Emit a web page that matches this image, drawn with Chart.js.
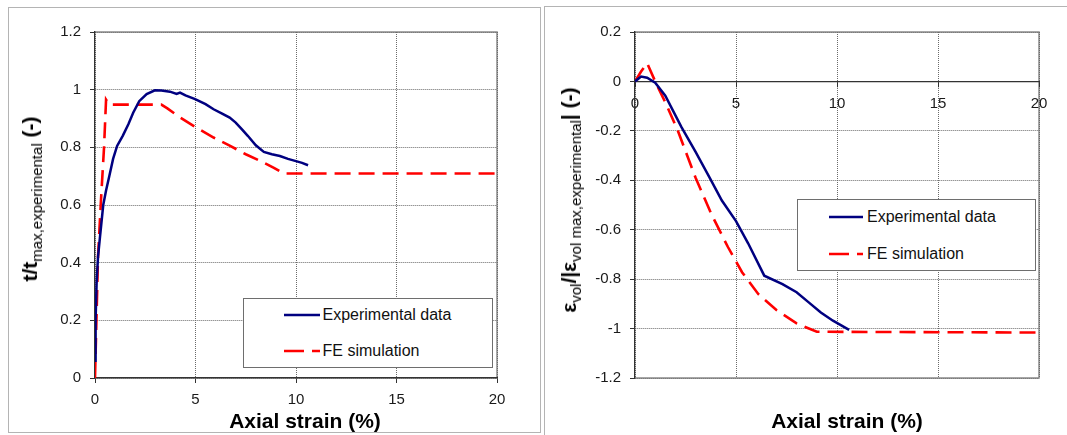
<!DOCTYPE html>
<html>
<head>
<meta charset="utf-8">
<script src="https://cdn.jsdelivr.net/npm/chart.js@4.4.0/dist/chart.umd.min.js"></script>
<style>
  body { margin: 0; background: #fff; width: 1067px; height: 435px; overflow: hidden; position: relative;
         font-family: "Liberation Sans", Arial, sans-serif; color: #000; }
  .panel { position: absolute; border: 1.5px solid #b4b4b4; box-sizing: border-box; }
  canvas { position: absolute; top: 0; }
  .ytitle { position: absolute; transform: translate(-50%, -50%) rotate(-90deg); white-space: nowrap;
            font-weight: bold; font-size: 21px; line-height: 26px; }
  .ytitle .sub { font-size: 15px; font-weight: normal; position: relative; top: 5px; }
  .xtitle { position: absolute; transform: translate(-50%, -50%); white-space: nowrap; font-weight: bold; font-size: 21px; }
  .legend { position: absolute; background: #fff; border: 1.2px solid #6e6e6e; box-sizing: border-box; }
  .legend .row { position: absolute; display: flex; align-items: center; font-size: 16px; color: #111;
                 transform: translateY(-50%); white-space: nowrap; }
  .legend svg { display: block; }
</style>
</head>
<body>
<div class="panel" style="left:8px; top:7px; width:533px; height:426px;"></div>
<div class="panel" style="left:543.5px; top:6px; width:540px; height:440px;"></div>

<canvas id="left" width="540" height="435" style="left:0px"></canvas>
<canvas id="right" width="527" height="435" style="left:540px"></canvas>

<div class="ytitle" style="left:31px; top:199px;">t/t<span class="sub">max,experimental</span> (-)</div>
<div class="ytitle" style="left:570px; top:200px;">&epsilon;<span class="sub">vol</span>/|&epsilon;<span class="sub">vol max,experimental</span>| (-)</div>
<div class="xtitle" style="left:305px; top:421px;">Axial strain (%)</div>
<div class="xtitle" style="left:847px; top:421px;">Axial strain (%)</div>

<div class="legend" id="legLeft" style="left:242.5px; top:297.5px; width:250px; height:70px;"></div>
<div class="legend" id="legRight" style="left:797px; top:198.5px; width:239px; height:72.5px;"></div>

<script>
// axis ticks
var xTicks = [0, 5, 10, 15, 20];
var xLabels = ['0', '5', '10', '15', '20'];
var yTicksLeft = [0, 0.2, 0.4, 0.6, 0.8, 1.0, 1.2];
var yLabelsLeft = ['0', '0.2', '0.4', '0.6', '0.8', '1', '1.2'];
var yTicksRight = [-1.2, -1.0, -0.8, -0.6, -0.4, -0.2, 0, 0.2];
var yLabelsRight = ['-1.2', '-1', '-0.8', '-0.6', '-0.4', '-0.2', '0', '0.2'];

var seriesNames = ['Experimental data', 'FE simulation'];

// left chart: t / t max,experimental
var strainExpL = [0, 0.03, 0.08, 0.15, 0.25, 0.41, 0.55, 0.71, 0.9, 1.1, 1.38, 1.66, 1.9, 2.2, 2.57, 2.98, 3.3, 3.73, 4.06, 4.23, 4.5, 4.98, 5.5, 5.9, 6.3, 6.7, 7.0, 7.3, 7.6, 8.0, 8.4, 8.8, 9.2, 9.6, 10.0, 10.3, 10.6];
var tExpL = [0.06, 0.2, 0.33, 0.42, 0.49, 0.6, 0.65, 0.7, 0.76, 0.805, 0.84, 0.88, 0.92, 0.96, 0.985, 0.998, 0.997, 0.993, 0.985, 0.99, 0.98, 0.967, 0.95, 0.932, 0.918, 0.903, 0.886, 0.863, 0.84, 0.807, 0.784, 0.776, 0.77, 0.76, 0.752, 0.746, 0.738];
var strainFeL = [0, 0.15, 0.3, 0.45, 0.55, 0.7, 3.3, 3.6, 4.2, 5.0, 5.9, 6.7, 7.5, 8.3, 8.9, 9.4, 20];
var tFeL = [0, 0.42, 0.62, 0.8, 0.965, 0.948, 0.948, 0.935, 0.905, 0.87, 0.834, 0.806, 0.776, 0.75, 0.729, 0.709, 0.709];

// right chart: eps vol / |eps vol max,experimental|
var strainExpR = [0, 0.3, 0.6, 1.0, 1.5, 2.3, 3.0, 3.7, 4.3, 5.0, 5.6, 6.4, 7.3, 8.0, 8.6, 9.2, 9.8, 10.6];
var volExpR = [0, 0.02, 0.015, -0.005, -0.058, -0.185, -0.285, -0.39, -0.482, -0.565, -0.655, -0.786, -0.82, -0.853, -0.894, -0.935, -0.968, -1.005];
var strainFeR = [0, 0.3, 0.6, 1.0, 1.5, 2.1, 3.0, 3.8, 4.6, 5.3, 6.1, 7.0, 8.0, 9.0, 20];
var volFeR = [0, 0.04, 0.074, 0.0, -0.085, -0.195, -0.39, -0.54, -0.67, -0.772, -0.86, -0.925, -0.979, -1.013, -1.016];

var blue = '#000080';
var red = '#ff0000';
var redDash = [16, 8];

function pts(xs, ys) {
  var out = [];
  for (var i = 0; i < xs.length; i++) out.push({x: xs[i], y: ys[i]});
  return out;
}

// solid plot frame (top, right, bottom)
var frame = {
  id: 'frame',
  beforeDraw: function(chart) {
    var ctx = chart.ctx, a = chart.chartArea;
    ctx.save();
    ctx.strokeStyle = '#8a8a8a';
    ctx.lineWidth = 1.5;
    ctx.beginPath();
    ctx.moveTo(a.left, a.top);
    ctx.lineTo(a.right, a.top);
    ctx.lineTo(a.right, a.bottom);
    ctx.lineTo(a.left, a.bottom);
    ctx.stroke();
    ctx.restore();
  }
};

var tickFont = {family: 'Liberation Sans', size: 15};

function makeScales(yTicks, yLabels, yMin, yMax, xPos) {
  return {
    x: {
      type: 'linear', min: 0, max: 20, position: xPos,
      afterBuildTicks: function(s) { s.ticks = xTicks.map(function(v) { return {value: v}; }); },
      afterFit: function(s) { s.height = 57; },
      grid: {color: '#6a6a6a', lineWidth: 1, tickLength: 5, tickColor: '#333'},
      border: {color: '#333', width: 1.3, dash: [1, 1]},
      ticks: {font: tickFont, color: '#1a1a1a', padding: 8, maxRotation: 0,
              callback: function(v, i) { return xLabels[i]; }}
    },
    y: {
      type: 'linear', min: yMin, max: yMax,
      afterBuildTicks: function(s) { s.ticks = yTicks.map(function(v) { return {value: v}; }); },
      afterFit: function(s) { s.width = 95; },
      grid: {color: '#6a6a6a', lineWidth: 1, tickLength: 5, tickColor: '#333'},
      border: {color: '#333', width: 1.3, dash: [1, 1]},
      ticks: {font: tickFont, color: '#1a1a1a', padding: 9,
              callback: function(v, i) { return yLabels[i]; }}
    }
  };
}

function makeChart(id, expPts, fePts, scales, padding) {
  return new Chart(document.getElementById(id), {
    type: 'scatter',
    data: {
      datasets: [
        {label: seriesNames[0], data: expPts, showLine: true, borderColor: blue, borderWidth: 2.5,
         pointRadius: 0, tension: 0},
        {label: seriesNames[1], data: fePts, showLine: true, borderColor: red, borderWidth: 2.6,
         borderDash: redDash, pointRadius: 0, tension: 0}
      ]
    },
    options: {
      responsive: false,
      animation: false,
      layout: {padding: padding},
      plugins: {legend: {display: false}, tooltip: {enabled: false}},
      scales: scales
    },
    plugins: [frame]
  });
}

var leftChart = makeChart('left', pts(strainExpL, tExpL), pts(strainFeL, tFeL),
  makeScales(yTicksLeft, yLabelsLeft, 0, 1.2, 'bottom'),
  {top: 32, right: 43, bottom: 0, left: 0});

var rightChart = makeChart('right', pts(strainExpR, volExpR), pts(strainFeR, volFeR),
  makeScales(yTicksRight, yLabelsRight, -1.2, 0.2, {y: 0}),
  {top: 32, right: 28, bottom: 57, left: 0});

// html legend built from chart datasets
function buildLegend(chart, el, sx, sw, gap, rows) {
  chart.data.datasets.forEach(function(ds, i) {
    var row = document.createElement('div');
    row.className = 'row';
    row.style.left = sx + 'px';
    row.style.top = rows[i] + 'px';
    var dash = ds.borderDash ? ' stroke-dasharray="' + [20, 8].join(',') + '"' : '';
    row.innerHTML = '<svg width="' + sw + '" height="6"><line x1="0" y1="3" x2="' + sw + '" y2="3" stroke="' +
      ds.borderColor + '" stroke-width="2.6"' + dash + '/></svg>' +
      '<span style="margin-left:' + gap + 'px">' + ds.label + '</span>';
    el.appendChild(row);
  });
}
buildLegend(leftChart, document.getElementById('legLeft'), 40, 36, 3, [16.5, 52.5]);
buildLegend(rightChart, document.getElementById('legRight'), 31, 34, 4, [17.5, 54]);
</script>
</body>
</html>
